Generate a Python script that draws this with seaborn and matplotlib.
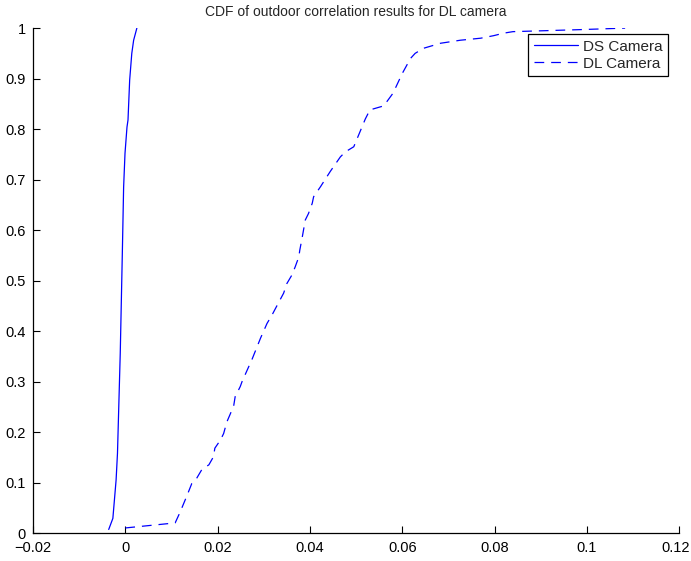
import matplotlib
matplotlib.use("Agg")
import matplotlib.pyplot as plt
import matplotlib.transforms as mtransforms
import seaborn as sns
import pandas as pd

ds_x = [-0.0036, -0.0027, -0.0020, -0.0017, -0.0011, -0.00065, -0.00037, -0.00007,
        0.00036, 0.00058, 0.00094, 0.0014, 0.0018, 0.0025]
ds_y = [0.007, 0.029, 0.105, 0.158, 0.356, 0.554, 0.685, 0.752,
        0.804, 0.818, 0.897, 0.95, 0.976, 1.0]

dl_x = [0.0, 0.0108, 0.0119, 0.0134, 0.0144, 0.0155, 0.0166, 0.0181, 0.0191, 0.0194,
        0.0206, 0.0213, 0.022, 0.0228, 0.0235, 0.0238, 0.0249, 0.0253, 0.0275, 0.0293,
        0.0307, 0.0318, 0.0329, 0.0343, 0.0350, 0.0361, 0.0368, 0.0376, 0.0378, 0.0383,
        0.039, 0.0397, 0.0405, 0.0408, 0.0423, 0.043, 0.0444, 0.0466, 0.0477, 0.0495,
        0.0520, 0.0530, 0.0560, 0.058, 0.060, 0.0618, 0.0628, 0.0646, 0.0683, 0.0726,
        0.077, 0.0798, 0.082, 0.084, 0.0914, 0.0986, 0.1083]
dl_y = [0.01, 0.02, 0.042, 0.075, 0.098, 0.109, 0.126, 0.135, 0.151, 0.168,
        0.184, 0.197, 0.220, 0.237, 0.253, 0.27, 0.29, 0.30, 0.345, 0.386,
        0.415, 0.432, 0.451, 0.475, 0.494, 0.511, 0.527, 0.547, 0.560, 0.584,
        0.62, 0.633, 0.653, 0.666, 0.686, 0.696, 0.716, 0.745, 0.755, 0.765,
        0.82, 0.838, 0.846, 0.871, 0.91, 0.94, 0.95, 0.96, 0.97, 0.976,
        0.98, 0.985, 0.99, 0.993, 0.995, 0.997, 1.0]

labels = ["DS Camera", "DL Camera"]
title = "CDF of outdoor correlation results for DL camera"
x_ticks = [-0.02, 0, 0.02, 0.04, 0.06, 0.08, 0.1, 0.12]
x_ticklabels = ["\u22120.02", "0", "0.02", "0.04", "0.06", "0.08", "0.1", "0.12"]
y_ticks = [0, 0.1, 0.2, 0.3, 0.4, 0.5, 0.6, 0.7, 0.8, 0.9, 1]
y_ticklabels = ["0", "0.1", "0.2", "0.3", "0.4", "0.5", "0.6", "0.7", "0.8", "0.9", "1"]

df = pd.concat([
    pd.DataFrame({"x": ds_x, "y": ds_y, "series": labels[0]}),
    pd.DataFrame({"x": dl_x, "y": dl_y, "series": labels[1]}),
], ignore_index=True)

sns.set_style("ticks")
plt.rcParams["font.family"] = ["Liberation Sans", "DejaVu Sans"]
plt.rcParams["lines.scale_dashes"] = False

fig = plt.figure(figsize=(6.91, 5.61), dpi=100)
ax = fig.add_axes([0.0478, 0.0499, 0.935, 0.900])

sns.lineplot(data=df, x="x", y="y", style="series", style_order=labels,
             dashes={labels[0]: "", labels[1]: (7, 5)}, color="#0000ff",
             linewidth=0.9, sort=False, estimator=None, ax=ax, legend=True)

ax.set_xlim(-0.02, 0.12)
ax.set_ylim(0, 1)
ax.set_xticks(x_ticks)
ax.set_xticklabels(x_ticklabels)
ax.set_yticks(y_ticks)
ax.set_yticklabels(y_ticklabels)
ax.set_xlabel("")
ax.set_ylabel("")
ax.tick_params(direction="in", length=5, width=0.8, labelsize=10.5, colors="black")
ax.tick_params(axis="x", pad=6)
ax.tick_params(axis="y", pad=5)
for s in ["top", "right"]:
    ax.spines[s].set_visible(False)
for s in ["left", "bottom"]:
    ax.spines[s].set_linewidth(0.9)
    ax.spines[s].set_color("black")
ax.set_title(title, fontsize=10, pad=9)

# nudge last x tick label slightly inward so it stays within the figure
last = ax.get_xticklabels()[-1]
last.set_transform(last.get_transform() + mtransforms.ScaledTranslation(-3 / 100, 0, fig.dpi_scale_trans))

handles, lbls = ax.get_legend_handles_labels()
leg = ax.legend(handles, lbls, loc="upper right", bbox_to_anchor=(0.983, 0.988),
                frameon=True, fancybox=False, framealpha=1, edgecolor="black",
                fontsize=11, handlelength=2.9, borderpad=0.35, labelspacing=0.2,
                handletextpad=0.35, borderaxespad=0.0)
leg.get_frame().set_linewidth(0.9)

fig.savefig("out.png", dpi=100)
